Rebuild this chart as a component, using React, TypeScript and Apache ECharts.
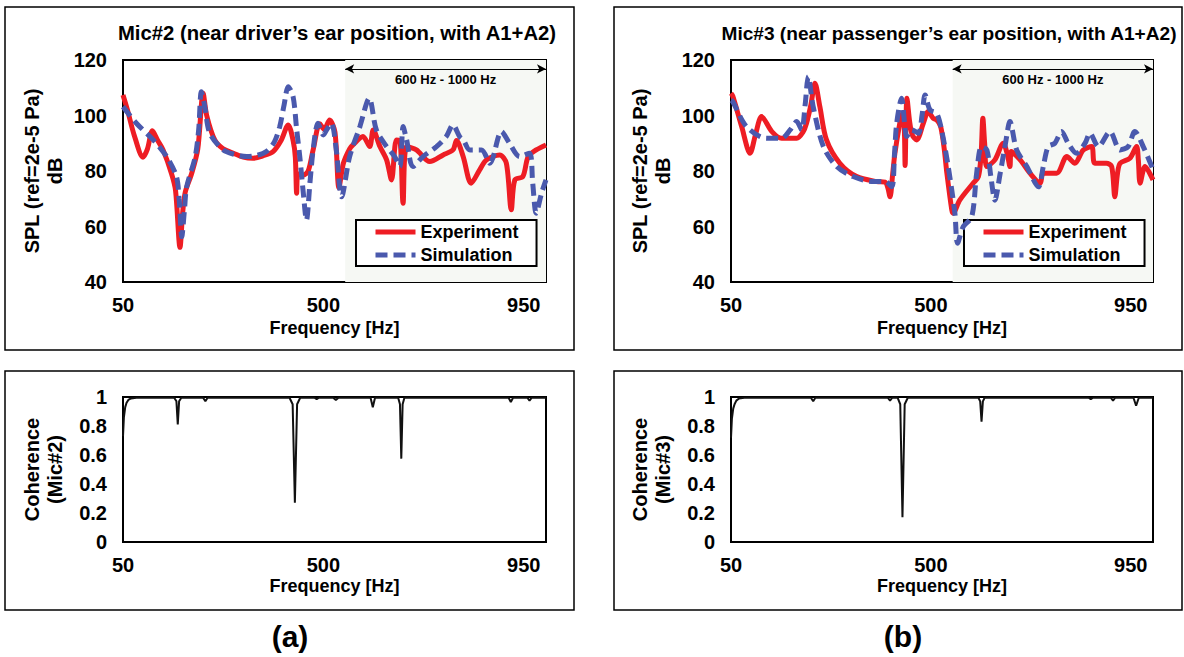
import React, { useEffect, useRef } from "react";
import * as echarts from "echarts";

const FONT = '"Liberation Sans", Arial, Helvetica, sans-serif';

// ---- axis ticks / labels ----
const X_TICKS = [50, 500, 950];
const X_RANGE = [50, 1000];
const SPL_RANGE = [40, 120];
const COH_RANGE = [0, 1];

const TITLE_A = "Mic#2 (near driver\u2019s ear position, with A1+A2)";
const TITLE_B = "Mic#3 (near passenger\u2019s ear position, with A1+A2)";
const SPL_NAME = "SPL (ref=2e-5 Pa)\ndB";
const COH_NAME_A = "Coherence\n(Mic#2)";
const COH_NAME_B = "Coherence\n(Mic#3)";
const X_NAME = "Frequency [Hz]";
const SERIES_NAMES = ["Experiment", "Simulation"];
const BAND_LABEL = "600 Hz - 1000 Hz";
const BAND = [549, 1000];
const BAND_ARROW_DB = 116.8;

// ---- Mic#2 SPL [Hz, dB] ----
const MIC2_EXP = [
  [50, 107.4], [60, 102], [75, 93], [95, 85], [105, 88], [116, 94.5], [128, 91], [140, 87.6],
  [159, 79], [168, 73], [178, 52.5], [184, 65], [190, 72.5], [204, 79], [218, 88], [230, 108],
  [238, 100], [256, 91.2], [275, 88], [298, 86.4], [320, 85], [342, 84.6], [365, 85.5], [387, 87],
  [405, 91], [421, 96.6], [432, 91], [437, 85], [440, 72], [443, 79], [455, 78.5], [466, 80],
  [477, 87.6], [492, 97], [502, 95], [514, 98.4], [526, 94], [535, 74], [545, 82.8], [559, 88],
  [567, 89.5], [589, 92.4], [604, 88.8], [612, 94.8], [627, 88.8], [642, 84], [653, 76.8],
  [664, 91.2], [672, 91], [679, 68.4], [687, 88.8], [709, 87.6], [739, 83.4], [769, 85.8],
  [791, 87.6], [799, 91], [814, 85.2], [832, 75.6], [851, 80.4], [866, 84], [896, 85.8],
  [911, 82.8], [922, 66], [930, 76.8], [948, 78], [960, 85.2], [978, 87.6], [1000, 89.4],
];
const MIC2_SIM = [
  [50, 103.2], [80, 97.2], [118, 91.2], [148, 85.2], [170, 78], [176, 70], [182, 56.3], [188, 66],
  [193, 74.3], [212, 85], [220, 95], [226, 108.6], [234, 103], [245, 93.6], [275, 87.6], [300, 86],
  [328, 85.2], [350, 85.6], [372, 87], [390, 90.5], [402, 96], [412, 104], [421, 110.4],
  [432, 106.8], [440, 95], [447, 85.2], [455, 72], [462, 62.3], [470, 76], [477, 87.6],
  [488, 97.2], [500, 93], [508, 95], [518, 97.2], [529, 87.6], [541, 70.7], [559, 85.2],
  [582, 96], [603, 106.2], [619, 94.8], [642, 88.8], [660, 85.2], [672, 81.6], [679, 96],
  [687, 91.2], [701, 81.6], [724, 85.2], [754, 88.8], [776, 92.4], [791, 96.6], [806, 92.4],
  [815, 91], [829, 87.6], [855, 87.6], [874, 82.8], [900, 94.2], [918, 90], [941, 85.2],
  [963, 86.4], [970, 76], [978, 64.8], [990, 72], [1000, 76.8],
];

// ---- Mic#3 SPL [Hz, dB] ----
const MIC3_EXP = [
  [50, 108], [54, 107], [74, 96], [93, 86.4], [105, 93], [119, 99.6], [142, 94.2], [164, 91.8],
  [198, 91.8], [212, 94], [220, 97.2], [230, 104], [239, 111.6], [250, 103.2], [265, 91.2],
  [295, 82.8], [333, 78], [378, 76.2], [397, 76], [403, 74], [408, 70.7], [414, 79], [419, 86.4],
  [430, 97.2], [436, 101], [440, 96], [442, 82], [444, 98], [446, 106.2], [452, 98], [458, 93],
  [468, 91.2], [483, 97.2], [494, 101.4], [505, 99], [513, 98.4], [522, 96], [530, 88],
  [536, 79.2], [547, 66], [550, 64.8], [565, 69.5], [595, 75.6], [607, 78], [613, 86], [617, 99],
  [621, 90], [626, 81.6], [644, 84], [663, 90], [672, 86], [678, 81.6], [681, 87], [701, 84],
  [723, 79.2], [746, 75.6], [753, 79.2], [783, 79.2], [806, 85.2], [824, 82.8], [843, 87.6],
  [862, 88.8], [869, 82.8], [895, 82.8], [907, 81.6], [914, 70.7], [920, 79], [926, 82.8],
  [948, 84.6], [963, 88.8], [967, 84], [971, 75.6], [982, 81.6], [1000, 76.8],
];
const MIC3_SIM = [
  [50, 105.5], [54, 105], [85, 96], [130, 91.8], [164, 91.8], [183, 94.8], [198, 97.8],
  [209, 94.8], [217, 104], [224, 114], [235, 103.2], [258, 88.8], [288, 81.6], [325, 78],
  [370, 76.2], [397, 76.2], [412, 74.3], [418, 86], [423, 97.2], [434, 106.2], [446, 92.4],
  [457, 94.8], [472, 93.6], [480, 100], [487, 107.4], [498, 102], [513, 100.8], [524, 94.8],
  [539, 81.6], [554, 64.8], [560, 54], [573, 60], [592, 63.5], [603, 79.2], [614, 88.8],
  [626, 87.6], [635, 78], [644, 69.5], [656, 79.2], [668, 90], [678, 97.8], [693, 87.6],
  [716, 81.6], [742, 74.3], [753, 81.6], [764, 88.8], [779, 90], [794, 94.2], [809, 90],
  [828, 86.4], [847, 90], [858, 93.6], [877, 88.8], [903, 94.2], [926, 87.6], [944, 88.8],
  [959, 94.2], [978, 88.8], [1000, 80.5],
];

// ---- Coherence [Hz, value] ----
const COH2 = [
  [50, 0.73], [52, 0.86], [55, 0.93], [58, 0.96], [62, 0.98], [68, 0.99], [80, 0.995],
  [165, 0.995], [170, 0.97], [173, 0.81], [176, 0.97], [181, 0.995], [230, 0.995], [235, 0.97],
  [240, 0.995], [424, 0.995], [431, 0.95], [436, 0.27], [441, 0.95], [448, 0.995], [480, 0.995],
  [485, 0.985], [490, 0.995], [522, 0.995], [528, 0.98], [534, 0.995], [606, 0.995], [611, 0.93],
  [616, 0.995], [668, 0.995], [672, 0.95], [675, 0.575], [678, 0.95], [682, 0.995], [916, 0.995],
  [921, 0.965], [926, 0.995], [958, 0.995], [963, 0.975], [968, 0.995], [1000, 0.995],
];
const COH3 = [
  [50, 0.72], [52, 0.85], [55, 0.92], [58, 0.95], [62, 0.975], [68, 0.99], [80, 0.995],
  [230, 0.995], [235, 0.97], [240, 0.995], [403, 0.995], [408, 0.975], [413, 0.995],
  [425, 0.995], [431, 0.95], [436, 0.17], [441, 0.95], [448, 0.995], [607, 0.995], [611, 0.97],
  [614, 0.83], [617, 0.97], [621, 0.995], [855, 0.995], [860, 0.985], [865, 0.995], [905, 0.995],
  [910, 0.975], [915, 0.995], [956, 0.995], [962, 0.94], [968, 0.995], [1000, 0.995],
];

const RED = "#ee1d24";
const BLUE = "#4a59ad";

const bold = (size: number, extra: any = {}) => ({
  fontFamily: FONT,
  fontWeight: "bold",
  fontSize: size,
  color: "#000",
  ...extra,
});

function makeX(gridIndex: number, nameGap: number) {
  return {
    type: "value",
    gridIndex,
    min: X_RANGE[0],
    max: X_RANGE[1],
    axisLine: { show: false },
    axisTick: { show: false },
    splitLine: { show: false },
    axisLabel: { customValues: X_TICKS, margin: 13, ...bold(20) },
    name: X_NAME,
    nameLocation: "middle",
    nameGap,
    nameTextStyle: bold(18),
  };
}

function makeY(gridIndex: number, range: number[], interval: number, name: string) {
  return {
    type: "value",
    gridIndex,
    min: range[0],
    max: range[1],
    interval,
    axisLine: { show: false },
    axisTick: { show: false },
    splitLine: { show: false },
    axisLabel: { margin: 16, ...bold(20) },
    name,
    nameLocation: "middle",
    nameGap: 57,
    nameTextStyle: bold(20, { lineHeight: 23 }),
  };
}

function splSeries(exp: number[][], sim: number[][], idx: number) {
  return [
    {
      name: SERIES_NAMES[0],
      type: "line",
      xAxisIndex: idx,
      yAxisIndex: idx,
      data: exp,
      symbol: "none",
      smooth: 0.3,
      lineStyle: { color: RED, width: 5 },
      itemStyle: { color: RED },
      z: 3,
      markArea: {
        silent: true,
        itemStyle: { color: "#f6f8f4" },
        label: {
          show: true,
          position: "insideTop",
          distance: 13,
          formatter: BAND_LABEL,
          ...bold(13),
        },
        data: [[{ xAxis: BAND[0] }, { xAxis: BAND[1] }]],
      },
      markLine: {
        silent: true,
        symbol: ["arrow", "arrow"],
        symbolSize: [7, 9],
        lineStyle: { color: "#000", width: 1, type: "solid" },
        label: { show: false },
        data: [[{ coord: [BAND[0], BAND_ARROW_DB] }, { coord: [BAND[1], BAND_ARROW_DB] }]],
      },
    },
    {
      name: SERIES_NAMES[1],
      type: "line",
      xAxisIndex: idx,
      yAxisIndex: idx,
      data: sim,
      symbol: "none",
      smooth: 0.3,
      lineStyle: { color: BLUE, width: 5, type: [12, 6] },
      itemStyle: { color: BLUE },
      z: 4,
    },
  ];
}

function cohSeries(data: number[][], idx: number) {
  return {
    name: "coh" + idx,
    type: "line",
    xAxisIndex: idx,
    yAxisIndex: idx,
    data,
    symbol: "none",
    lineStyle: { color: "#111", width: 2 },
    z: 3,
  };
}

function makeLegend(left: number) {
  return {
    data: SERIES_NAMES,
    left,
    top: 220,
    orient: "vertical",
    selectedMode: false,
    padding: [3, 18, 2, 17],
    itemGap: 5,
    itemWidth: 40,
    itemHeight: 20,
    borderColor: "#000",
    borderWidth: 2,
    backgroundColor: "#fff",
    itemStyle: { opacity: 0, borderWidth: 0 },
    lineStyle: { width: 5 },
    textStyle: bold(18),
  };
}

const boxStyle = { fill: "none", stroke: "#000", lineWidth: 1.5 };

const textEl = (x: number, y: number, text: string, size: number) => ({
  type: "text",
  x,
  y,
  silent: true,
  style: {
    text,
    fontFamily: FONT,
    fontWeight: "bold",
    fontSize: size,
    fill: "#000",
    align: "center",
    verticalAlign: "middle",
    textAlign: "center",
    textVerticalAlign: "middle",
  },
});

export default function App() {
  const ref = useRef<HTMLDivElement>(null);
  useEffect(() => {
    if (!ref.current) return;
    const chart = echarts.init(ref.current, undefined, { renderer: "svg" });
    const gridBase = { show: true, borderColor: "#000", borderWidth: 2, backgroundColor: "transparent" };
    const option: any = {
      animation: false,
      backgroundColor: "#fff",
      textStyle: { fontFamily: FONT },
      grid: [
        { left: 123, top: 60, width: 423, height: 222, ...gridBase },
        { left: 731, top: 60, width: 422, height: 222, ...gridBase },
        { left: 123, top: 397, width: 423, height: 145, ...gridBase },
        { left: 731, top: 397, width: 422, height: 145, ...gridBase },
      ],
      xAxis: [makeX(0, 37), makeX(1, 37), makeX(2, 35), makeX(3, 35)],
      yAxis: [
        makeY(0, SPL_RANGE, 20, SPL_NAME),
        makeY(1, SPL_RANGE, 20, SPL_NAME),
        makeY(2, COH_RANGE, 0.2, COH_NAME_A),
        makeY(3, COH_RANGE, 0.2, COH_NAME_B),
      ],
      legend: [makeLegend(356), makeLegend(964)],
      series: [
        ...splSeries(MIC2_EXP, MIC2_SIM, 0),
        ...splSeries(MIC3_EXP, MIC3_SIM, 1),
        cohSeries(COH2, 2),
        cohSeries(COH3, 3),
      ],
      graphic: [
        { type: "rect", shape: { x: 5, y: 7, width: 569, height: 343 }, style: boxStyle, silent: true },
        { type: "rect", shape: { x: 614, y: 7, width: 568, height: 343 }, style: boxStyle, silent: true },
        { type: "rect", shape: { x: 5, y: 371, width: 569, height: 239 }, style: boxStyle, silent: true },
        { type: "rect", shape: { x: 614, y: 371, width: 568, height: 239 }, style: boxStyle, silent: true },
        textEl(337, 33, TITLE_A, 20.3),
        textEl(949, 33, TITLE_B, 19.1),
        textEl(290, 636, "(a)", 30),
        textEl(903, 636, "(b)", 30),
      ],
    };
    chart.setOption(option);
    return () => chart.dispose();
  }, []);
  return (
    <div
      ref={ref}
      style={{ position: "absolute", left: 0, top: 0, width: 1184, height: 657, background: "#fff" }}
    />
  );
}
